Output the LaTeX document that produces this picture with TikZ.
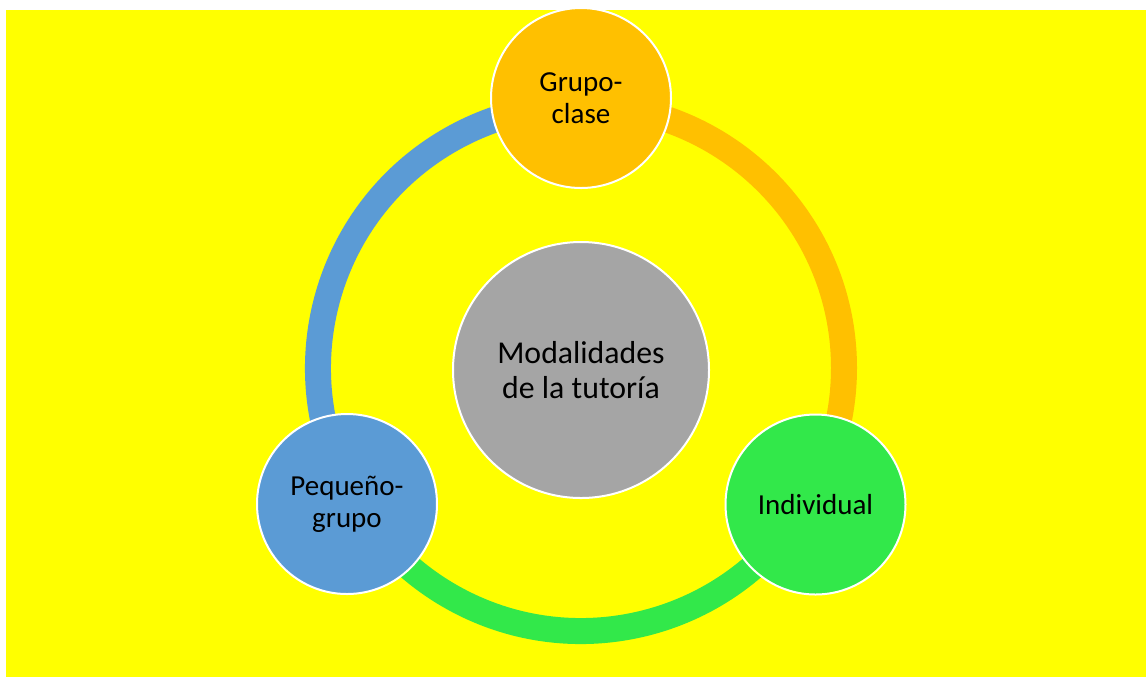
\documentclass[tikz,border=0pt]{standalone}
\usepackage{fontspec}
\setmainfont{Carlito}
\definecolor{bgyellow}{HTML}{FFFF00}
\definecolor{clsorange}{HTML}{FFC000}
\definecolor{indgreen}{HTML}{32E84A}
\definecolor{grpblue}{HTML}{5B9BD5}
\definecolor{hubgray}{HTML}{A5A5A5}
\tikzset{
  mode/.style={draw=white, line width=1pt, circle, minimum size=90pt, inner sep=0pt,
    align=center, font=\fontsize{14.5}{16}\selectfont},
  hubnode/.style={draw=white, line width=1pt, circle, minimum size=128pt, inner sep=0pt,
    align=center, font=\fontsize{15.9}{17.5}\selectfont, fill=hubgray},
  ringarc/.style={draw=#1, line width=13pt}
}
\begin{document}
\begin{tikzpicture}[x=0.5pt,y=-0.5pt]
\useasboundingbox (0,0) rectangle (1146,677);
\fill[bgyellow] (6,10) rectangle (1146,677);

\coordinate (hub) at (581,368);

% ring arcs, drawn below the circles (y axis points down)
\path[ringarc=clsorange] (hub) ++(-90:263) arc[start angle=-90, end angle=30, radius=263];
\path[ringarc=indgreen] (hub) ++(30:263) arc[start angle=30, end angle=150, radius=263];
\path[ringarc=grpblue] (hub) ++(150:263) arc[start angle=150, end angle=270, radius=263];

\node[hubnode] (centro) at (581,370) {Modalidades\\de la tutoría};
\node[mode, fill=clsorange] (grupo) at (581,98) {Grupo-\\clase};
\node[mode, fill=indgreen] (indiv) at (815.5,504.5) {Individual};
\node[mode, fill=grpblue] (peq) at (347,504) {Pequeño-\\grupo};
\end{tikzpicture}
\end{document}
